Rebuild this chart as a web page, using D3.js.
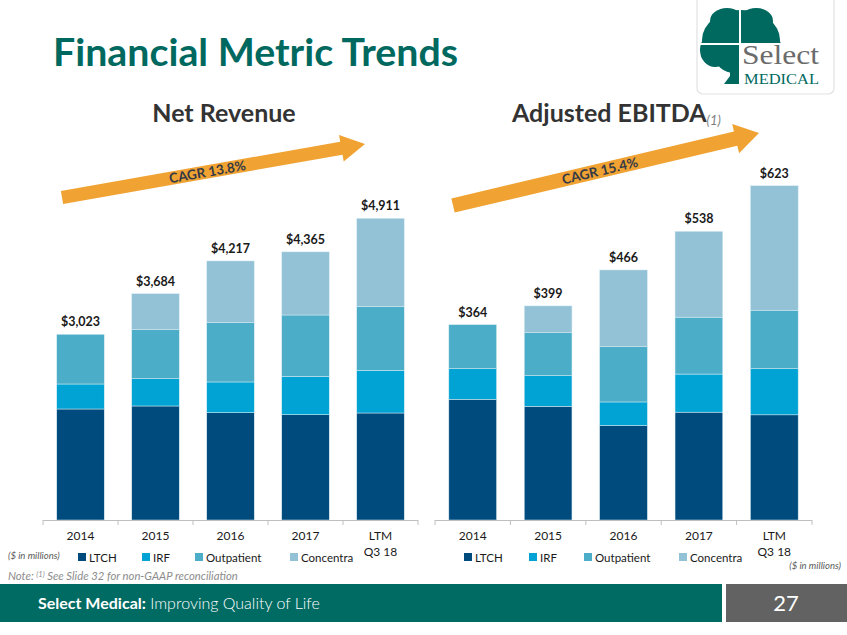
<!DOCTYPE html>
<html>
<head>
<meta charset="utf-8">
<script src="https://cdn.jsdelivr.net/npm/d3@7/dist/d3.min.js"></script>
<style>
  html, body { margin: 0; padding: 0; background: #ffffff; }
  svg { display: block; }
  text { font-family: Lato, "Open Sans", sans-serif; }
</style>
</head>
<body>
<svg id="chart" width="847" height="635"></svg>
<script>
// ---------------- DATA ----------------
const categories = ["2014", "2015", "2016", "2017", "LTM\nQ3 18"];
const seriesNames = ["LTCH", "IRF", "Outpatient", "Concentra"];

const revenueLTCH       = [1807, 1856, 1747, 1714, 1742];
const revenueIRF        = [407, 444, 500, 625, 695];
const revenueOutpatient = [809, 798, 972, 998, 1042];
const revenueConcentra  = [0, 586, 998, 1028, 1432];
const revenueTotals     = [3023, 3684, 4217, 4365, 4911];

const ebitdaLTCH        = [225, 212, 176, 201, 196];
const ebitdaIRF         = [57, 57, 44, 71, 86];
const ebitdaOutpatient  = [82, 80, 103, 106, 109];
const ebitdaConcentra   = [0, 50, 143, 160, 232];
const ebitdaTotals      = [364, 399, 466, 538, 623];

const cagrLabels = ["CAGR 13.8%", "CAGR 15.4%"];
const panelTitles = ["Net Revenue", "Adjusted EBITDA"];

// ---------------- STYLE ----------------
const colors = { LTCH: "#004B7D", IRF: "#00A3D3", Outpatient: "#4BADC7", Concentra: "#93C2D6" };
const teal = "#00695F";
const orange = "#F0A332";

const svg = d3.select("#chart");

// ---------------- HEADER ----------------
function fitWidth(sel, w) {
  const n = sel.node();
  const cur = n.getComputedTextLength();
  if (Math.abs(cur - w) > 1) sel.attr("textLength", w).attr("lengthAdjust", "spacingAndGlyphs");
}

fitWidth(svg.append("text").attr("x", 53).attr("y", 66)
  .attr("font-size", 38).attr("font-weight", 700).attr("fill", teal)
  .text("Financial Metric Trends"), 405);

// Logo
const logo = svg.append("g");
logo.append("rect").attr("x", 697).attr("y", -8).attr("width", 137).attr("height", 102).attr("rx", 6)
  .attr("fill", "#fff").attr("stroke", "#e2e2e2").attr("stroke-width", 1.2);
const tree = logo.append("g").attr("fill", teal);
[[741, 40, 39, 30], [715, 50, 15, 17], [767, 50, 15, 17], [727, 21, 17, 13], [756, 21, 17, 13], [741, 60, 25, 14]]
  .forEach(c => tree.append("ellipse").attr("cx", c[0]).attr("cy", c[1]).attr("rx", c[2]).attr("ry", c[3]));
tree.append("path").attr("d", "M730,64 L745,64 L744,76 L748,84 L724,84 L730,76 Z");
logo.append("line").attr("x1", 740).attr("x2", 740).attr("y1", 8).attr("y2", 74).attr("stroke", "#fff").attr("stroke-width", 2);
logo.append("line").attr("x1", 700).attr("x2", 783).attr("y1", 44).attr("y2", 44).attr("stroke", "#fff").attr("stroke-width", 2);
logo.append("rect").attr("x", 739).attr("y", 44).attr("width", 46).attr("height", 44).attr("fill", "#fff");
fitWidth(logo.append("text").attr("x", 742).attr("y", 64)
  .attr("font-size", 27).attr("fill", "#6b6b6b").attr("style", "font-family:'Liberation Serif',serif").text("Select"), 77);
fitWidth(logo.append("text").attr("x", 744).attr("y", 84).attr("style", "font-family:'Liberation Serif',serif")
  .attr("font-size", 15).attr("fill", teal).text("MEDICAL"), 75);

// Panel titles
svg.append("text").attr("x", 224).attr("y", 122).attr("text-anchor", "middle")
  .attr("font-size", 25).attr("font-weight", 700).attr("fill", "#333").text(panelTitles[0]);
const t2 = svg.append("text").attr("x", 512).attr("y", 122).attr("font-size", 25).attr("font-weight", 700).attr("fill", "#333");
t2.append("tspan").text(panelTitles[1]);
t2.append("tspan").attr("font-size", 13).attr("font-weight", 400).attr("font-style", "italic").attr("fill", "#7f7f7f").attr("dy", 3).text("(1)");

// ---------------- ARROWS ----------------
function arrow(x0, y0, x1, y1, shaft, head, headLen, label) {
  const dx = x1 - x0, dy = y1 - y0, L = Math.hypot(dx, dy);
  const ux = dx / L, uy = dy / L, px = -uy, py = ux;
  const bx = x1 - ux * headLen, by = y1 - uy * headLen;
  const pts = [
    [x0 + px * shaft / 2, y0 + py * shaft / 2],
    [bx + px * shaft / 2, by + py * shaft / 2],
    [bx + px * head / 2, by + py * head / 2],
    [x1, y1],
    [bx - px * head / 2, by - py * head / 2],
    [bx - px * shaft / 2, by - py * shaft / 2],
    [x0 - px * shaft / 2, y0 - py * shaft / 2]
  ];
  svg.append("path").attr("d", d3.line()(pts) + "Z").attr("fill", orange);
  const ang = Math.atan2(dy, dx) * 180 / Math.PI;
  const tx = x0 + ux * L * 0.48, ty = y0 + uy * L * 0.48;
  svg.append("text").attr("transform", `translate(${tx},${ty}) rotate(${ang})`)
    .attr("text-anchor", "middle").attr("dy", "0.36em")
    .attr("font-size", 13.5).attr("font-weight", 700).attr("fill", "#353A46").text(label);
}
arrow(62, 197.5, 365, 144, 13.2, 27, 24, cagrLabels[0]);
arrow(453, 205.5, 759, 133, 14.6, 30, 24, cagrLabels[1]);

// ---------------- CHARTS ----------------
function drawPanel(cfg) {
  const rows = categories.map((c, i) => {
    const r = { cat: c };
    seriesNames.forEach((s, j) => r[s] = cfg.values[j][i]);
    return r;
  });
  const x = d3.scaleBand().domain(categories).range([cfg.x0, cfg.x1])
    .paddingInner(0.367).paddingOuter(0.1835);
  const y = d3.scaleLinear().domain([0, cfg.maxV]).range([cfg.base, cfg.top]);
  const stacked = d3.stack().keys(seriesNames)(rows);
  const g = svg.append("g");
  g.selectAll("g.layer").data(stacked).join("g").attr("class", "layer")
    .attr("fill", d => colors[d.key])
    .selectAll("rect").data(d => d).join("rect")
    .attr("x", d => x(d.data.cat)).attr("width", x.bandwidth())
    .attr("y", d => y(d[1])).attr("height", d => y(d[0]) - y(d[1]))
    .attr("stroke", "#d8ecf4").attr("stroke-width", 0.5);
  // totals
  g.selectAll("text.total").data(cfg.totals).join("text").attr("class", "total")
    .attr("x", (d, i) => x(categories[i]) + x.bandwidth() / 2)
    .attr("y", d => y(d) - 8).attr("text-anchor", "middle")
    .attr("font-size", 12.5).attr("font-weight", 700).attr("fill", "#1a1a1a")
    .text(d => "$" + d3.format(",")(d));
  // axis
  const step = x.step();
  const tickPos = categories.map(c => x(c) - step * x.paddingInner() / 2).concat([cfg.x1]);
  g.append("line").attr("x1", cfg.x0).attr("x2", cfg.x1).attr("y1", cfg.base + 0.5).attr("y2", cfg.base + 0.5)
    .attr("stroke", "#bfbfbf").attr("stroke-width", 1);
  g.selectAll("line.tick").data(tickPos).join("line").attr("class", "tick")
    .attr("x1", d => d).attr("x2", d => d).attr("y1", cfg.base).attr("y2", cfg.base + 5)
    .attr("stroke", "#bfbfbf").attr("stroke-width", 1);
  const lab = g.selectAll("text.cat").data(categories).join("text").attr("class", "cat")
    .attr("x", d => x(d) + x.bandwidth() / 2).attr("y", cfg.base + 20)
    .attr("text-anchor", "middle").attr("font-size", 12).attr("fill", "#1a1a1a");
  lab.each(function (d) {
    d.split("\n").forEach((line, k) => d3.select(this).append("tspan")
      .attr("x", x(d) + x.bandwidth() / 2).attr("dy", k === 0 ? 0 : 16).text(line));
  });
  // legend
  cfg.legendX.forEach((lx, i) => {
    g.append("rect").attr("x", lx).attr("y", 553).attr("width", 8).attr("height", 8).attr("fill", colors[seriesNames[i]]);
    g.append("text").attr("x", lx + 11).attr("y", 561.5).attr("font-size", 11.5).attr("fill", "#1a1a1a").text(seriesNames[i]);
  });
}

drawPanel({
  values: [revenueLTCH, revenueIRF, revenueOutpatient, revenueConcentra],
  totals: revenueTotals, x0: 43, x1: 418, base: 520, top: 212.85, maxV: 5000,
  legendX: [78, 142, 195, 290]
});
drawPanel({
  values: [ebitdaLTCH, ebitdaIRF, ebitdaOutpatient, ebitdaConcentra],
  totals: ebitdaTotals, x0: 435, x1: 812, base: 520, top: 144.4, maxV: 700,
  legendX: [464, 529, 584, 679]
});

svg.append("text").attr("x", 8).attr("y", 559).attr("font-size", 9.5).attr("font-style", "italic")
  .attr("fill", "#595959").text("($ in millions)");
svg.append("text").attr("x", 841).attr("y", 569).attr("text-anchor", "end").attr("font-size", 9.5).attr("font-style", "italic")
  .attr("fill", "#595959").text("($ in millions)");

const note = svg.append("text").attr("x", 8).attr("y", 580).attr("font-size", 11.3).attr("font-style", "italic").attr("fill", "#8c8c8c");
note.append("tspan").text("Note: ");
note.append("tspan").attr("font-size", 7.5).attr("dy", -3).text("(1)");
note.append("tspan").attr("dy", 3).text(" See Slide 32 for non-GAAP reconciliation");

// ---------------- FOOTER ----------------
svg.append("rect").attr("x", 0).attr("y", 584).attr("width", 722).attr("height", 38).attr("fill", "#006B63");
svg.append("rect").attr("x", 726).attr("y", 584).attr("width", 121).attr("height", 38).attr("fill", "#626262");
const ft = svg.append("text").attr("x", 38).attr("y", 609).attr("font-size", 16).attr("fill", "#fff");
ft.append("tspan").attr("font-weight", 700).text("Select Medical:");
ft.append("tspan").attr("font-weight", 300).text(" Improving Quality of Life");
svg.append("text").attr("x", 786).attr("y", 611).attr("text-anchor", "middle").attr("font-size", 22).attr("fill", "#fff").text("27");
</script>
</body>
</html>
